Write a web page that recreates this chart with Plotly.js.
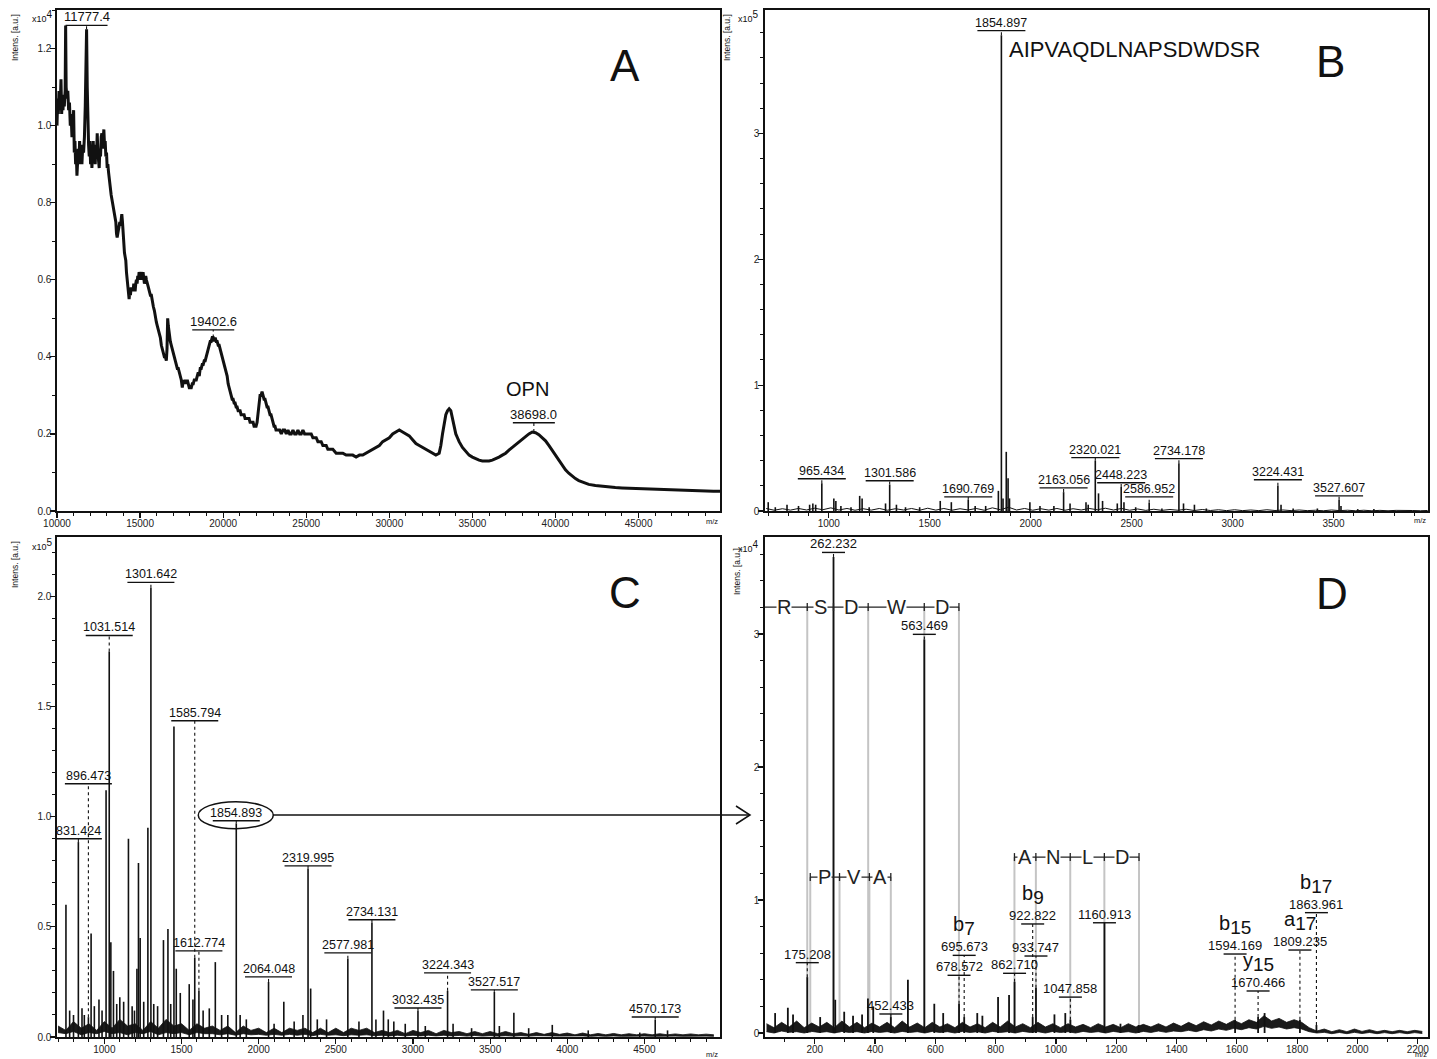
<!DOCTYPE html>
<html><head><meta charset="utf-8">
<script src="https://cdn.plot.ly/plotly-3.0.1.min.js"></script>
<style>html,body{margin:0;padding:0;background:#fff}#chart{width:1437px;height:1059px}</style>
</head><body><div id="chart"></div>
<script>
// ===================== DATA =====================
// Panel A: linear-mode profile spectrum (m/z, intensity x10^4)
const specA_mz = [
10000,10040,10080,10120,10160,10200,10240,10280,10320,10360,
10400,10440,10490,10520,10550,10600,10650,10700,10750,10800,
10850,10900,10950,11000,11040,11080,11120,11160,11200,11240,
11280,11320,11360,11400,11450,11500,11550,11600,11650,11700,
11740,11780,11820,11860,11900,11940,11980,12020,12060,12100,
12140,12180,12220,12260,12300,12340,12380,12420,12460,12500,
12540,12580,12620,12660,12700,12740,12780,12820,12860,12900,
12940,12980,13020,13060,13100,13140,13180,13220,13260,13300,
13340,13380,13420,13460,13500,13540,13580,13620,13660,13700,
13740,13780,13820,13860,13900,13940,13980,14020,14060,14100,
14140,14180,14220,14260,14300,14340,14380,14420,14460,14500,
14540,14580,14620,14660,14700,14740,14780,14820,14860,14900,
14940,14980,15020,15060,15100,15140,15180,15220,15260,15300,
15340,15380,15420,15460,15500,15560,15620,15680,15740,15800,
15860,15920,15980,16040,16100,16160,16220,16280,16340,16400,
16460,16520,16580,16620,16660,16700,16740,16780,16820,16880,
16940,17000,17060,17120,17180,17240,17300,17360,17420,17480,
17540,17600,17660,17720,17780,17840,17900,17960,18020,18080,
18140,18200,18260,18320,18380,18440,18500,18560,18620,18680,
18740,18800,18860,18920,18980,19040,19100,19160,19220,19280,
19340,19400,19460,19520,19580,19640,19700,19760,19820,19880,
19940,20000,20060,20120,20180,20240,20300,20360,20420,20480,
20540,20600,20660,20720,20780,20840,20900,20960,21020,21080,
21140,21200,21260,21320,21380,21440,21500,21560,21620,21680,
21740,21800,21860,21920,21980,22040,22100,22160,22220,22280,
22340,22400,22460,22520,22580,22640,22700,22760,22820,22880,
22940,23000,23060,23120,23180,23240,23300,23400,23500,23600,
23700,23800,23900,24000,24100,24200,24300,24400,24500,24600,
24700,24800,24900,25000,25100,25200,25300,25400,25500,25600,
25700,25800,25900,26000,26100,26200,26300,26400,26500,26600,
26700,26800,26900,27000,27200,27400,27600,27800,28000,28200,
28400,28600,28800,29000,29200,29400,29600,29800,30000,30200,
30400,30600,30800,31000,31200,31400,31600,31800,32000,32200,
32400,32600,32800,33000,33100,33200,33300,33400,33500,33600,
33700,33800,33900,34000,34100,34200,34400,34600,34800,35000,
35200,35400,35600,35800,36000,36200,36400,36600,36800,37000,
37200,37400,37600,37800,38000,38200,38400,38600,38800,39000,
39200,39400,39600,39800,40000,40200,40400,40600,40800,41000,
41200,41400,41600,41800,42000,42400,42800,43200,43600,44000,
44500,45000,45500,46000,46500,47000,47500,48000,48500,49000,
49500,49900];
const specA_int = [
1.00,1.07,1.03,1.09,1.04,1.06,1.12,1.03,1.07,1.04,
1.08,1.05,1.09,1.26,1.10,1.07,1.09,1.04,1.06,1.00,
1.03,0.97,1.00,1.04,0.93,0.96,0.90,0.93,0.87,0.91,
0.94,0.90,0.96,0.91,0.94,0.90,0.95,0.93,0.97,1.05,
1.24,1.25,1.10,0.98,0.95,0.92,0.96,0.90,0.94,0.89,
0.95,0.96,0.91,0.94,0.90,0.95,0.92,0.98,0.93,0.91,
0.89,0.94,0.92,0.97,0.98,0.94,0.97,0.99,0.95,0.96,
0.92,0.93,0.89,0.90,0.88,0.86,0.85,0.84,0.82,0.81,
0.80,0.79,0.79,0.78,0.77,0.75,0.72,0.71,0.72,0.73,
0.74,0.75,0.74,0.76,0.77,0.75,0.71,0.68,0.67,0.66,
0.65,0.62,0.60,0.58,0.57,0.55,0.57,0.56,0.58,0.57,
0.58,0.57,0.59,0.58,0.57,0.59,0.60,0.59,0.61,0.60,
0.62,0.61,0.60,0.62,0.61,0.60,0.62,0.61,0.59,0.60,
0.61,0.60,0.59,0.59,0.58,0.57,0.56,0.56,0.54,0.53,
0.52,0.50,0.49,0.48,0.47,0.46,0.45,0.43,0.42,0.41,
0.40,0.40,0.39,0.42,0.50,0.48,0.46,0.45,0.44,0.43,
0.42,0.41,0.40,0.39,0.38,0.37,0.37,0.36,0.35,0.34,
0.32,0.34,0.33,0.34,0.33,0.34,0.33,0.32,0.32,0.32,
0.33,0.33,0.34,0.34,0.34,0.35,0.36,0.35,0.37,0.37,
0.38,0.38,0.39,0.39,0.40,0.41,0.42,0.43,0.44,0.44,
0.45,0.45,0.44,0.45,0.44,0.44,0.43,0.43,0.42,0.41,
0.40,0.39,0.38,0.37,0.36,0.35,0.33,0.32,0.31,0.30,
0.29,0.29,0.28,0.28,0.27,0.27,0.26,0.26,0.26,0.25,
0.25,0.25,0.25,0.24,0.24,0.24,0.24,0.24,0.23,0.23,
0.23,0.23,0.22,0.22,0.22,0.23,0.26,0.29,0.30,0.30,
0.31,0.30,0.29,0.29,0.28,0.27,0.27,0.26,0.25,0.25,
0.24,0.23,0.22,0.22,0.21,0.21,0.21,0.21,0.20,0.21,
0.21,0.20,0.21,0.20,0.20,0.21,0.20,0.20,0.21,0.20,
0.20,0.21,0.20,0.20,0.20,0.20,0.20,0.19,0.19,0.19,
0.18,0.18,0.18,0.17,0.17,0.17,0.16,0.16,0.16,0.16,
0.155,0.15,0.15,0.15,0.15,0.145,0.145,0.145,0.14,0.145,
0.145,0.15,0.155,0.16,0.165,0.17,0.18,0.185,0.19,0.20,
0.205,0.21,0.205,0.20,0.195,0.185,0.175,0.17,0.165,0.16,
0.155,0.15,0.145,0.15,0.17,0.20,0.23,0.25,0.26,0.265,
0.26,0.24,0.22,0.20,0.19,0.18,0.165,0.155,0.145,0.14,
0.135,0.132,0.13,0.13,0.13,0.132,0.135,0.14,0.145,0.15,
0.158,0.165,0.173,0.18,0.188,0.195,0.20,0.205,0.203,0.198,
0.19,0.182,0.17,0.157,0.143,0.13,0.118,0.107,0.098,0.09,
0.084,0.079,0.075,0.072,0.069,0.066,0.064,0.062,0.061,0.06,
0.059,0.058,0.057,0.056,0.055,0.054,0.054,0.053,0.052,0.052,
0.051,0.051];
const labelsA_mz = [11777.4, 19402.6, 38698.0];
const labelsA_peak = [1.25, 0.45, 0.205];

// Panel B: tryptic peptide mass fingerprint (m/z, intensity x10^5)
const peaksB_mz = [700,735,793,850,905,921,935,965.434,1025,1035,1060,1110,1153,1165,1200,1281,1301.586,1335,1380,1450,1552,1607,1690.769,1725,1777,1840,1854.897,1863,1879,1888,1895,1996,2046,2115,2163.056,2195,2274,2285,2320.021,2336,2356,2429,2448.223,2462,2520,2586.952,2650,2734.178,2757,2811,2870,3224.431,3240,3300,3420,3527.607,3537,3620,3700];
const peaksB_int = [0.07,0.03,0.05,0.04,0.05,0.06,0.05,0.22,0.10,0.08,0.04,0.03,0.12,0.10,0.03,0.06,0.21,0.05,0.03,0.03,0.08,0.07,0.09,0.04,0.04,0.16,3.78,0.10,0.47,0.26,0.10,0.07,0.04,0.04,0.15,0.06,0.07,0.05,0.40,0.14,0.08,0.06,0.19,0.07,0.03,0.065,0.02,0.38,0.06,0.05,0.02,0.20,0.05,0.02,0.02,0.09,0.04,0.015,0.015];
const noiseB_mz = [690,730,770,810,850,890,930,970,1010,1050,1090,1130,1170,1210,1250,1290,1330,1370,1410,1450,1490,1530,1570,1610,1650,1690,1730,1770,1810,1850,1890,1930,1970,2010,2050,2090,2130,2170,2210,2250,2290,2330,2370,2410,2450,2490,2530,2570,2610,2650,2690,2730,2770,2810,2850,2890,2930,2970,3010,3050,3090,3130,3170,3210,3250,3290,3330,3370,3410,3450,3490,3530,3570,3610,3650,3690,3730,3770,3810,3850,3890,3930,3966];
const noiseB_int = [0.02,0.006,0.018,0.007,0.02,0.008,0.022,0.01,0.025,0.008,0.02,0.006,0.018,0.007,0.02,0.006,0.018,0.008,0.02,0.006,0.022,0.007,0.02,0.006,0.018,0.008,0.02,0.006,0.025,0.01,0.03,0.008,0.02,0.006,0.018,0.007,0.02,0.006,0.018,0.008,0.02,0.01,0.022,0.008,0.02,0.006,0.016,0.005,0.014,0.005,0.012,0.006,0.014,0.004,0.012,0.004,0.01,0.003,0.01,0.003,0.008,0.003,0.01,0.004,0.008,0.003,0.008,0.003,0.006,0.002,0.008,0.003,0.006,0.002,0.006,0.002,0.005,0.002,0.005,0.002,0.004,0.002,0.004];
const labelsB_mz = [965.434,1301.586,1690.769,1854.897,2163.056,2320.021,2448.223,2586.952,2734.178,3224.431,3527.607];
const peptideB = 'AIPVAQDLNAPSDWDSR';

// Panel C: peptide mass fingerprint (m/z, intensity x10^5)
const peaksC_mz = [751,775,800,831.424,855,870,896.473,914,935,965,985,1011,1031.514,1042,1059,1080,1100,1125,1156,1180,1195,1211,1221,1232,1255,1282,1301.642,1320,1345,1383,1412,1430,1451,1466,1492,1550,1574,1585.794,1612.774,1640,1680,1719,1760,1800,1854.893,1880,1920,2064.048,2100,2163,2230,2287,2319.995,2337,2380,2440,2577.981,2650,2734.131,2760,2809,2840,2876,2950,3032.435,3080,3224.343,3260,3380,3527.517,3560,3654,3750,3903,4136,4470,4570.173,4650];
const peaksC_int = [0.60,0.12,0.10,0.885,0.13,0.10,0.09,0.47,0.14,0.17,0.12,1.12,1.75,0.43,0.30,0.15,0.18,0.16,0.90,0.14,0.12,0.31,0.79,0.45,0.16,0.95,2.04,0.15,0.14,0.44,0.49,0.15,1.41,0.31,0.20,0.24,0.17,0.36,0.21,0.12,0.13,0.34,0.10,0.10,0.97,0.10,0.08,0.25,0.06,0.16,0.07,0.10,0.765,0.22,0.08,0.08,0.355,0.07,0.52,0.08,0.12,0.08,0.07,0.06,0.12,0.05,0.21,0.06,0.04,0.205,0.05,0.11,0.04,0.055,0.03,0.02,0.078,0.03];
const noiseC_mz = [700,750,800,850,900,950,1000,1050,1100,1150,1200,1250,1300,1350,1400,1450,1500,1550,1600,1650,1700,1750,1800,1850,1900,1950,2000,2050,2100,2150,2200,2250,2300,2350,2400,2450,2500,2550,2600,2650,2700,2750,2800,2850,2900,2950,3000,3050,3100,3150,3200,3250,3300,3350,3400,3450,3500,3550,3600,3650,3700,3750,3800,3850,3900,3950,4000,4050,4100,4150,4200,4250,4300,4350,4400,4450,4500,4550,4600,4650,4700,4750,4800,4850,4900,4950];
const noiseC_hi = [0.05,0.03,0.07,0.04,0.06,0.03,0.07,0.04,0.08,0.05,0.06,0.03,0.07,0.04,0.08,0.05,0.06,0.03,0.06,0.04,0.05,0.03,0.05,0.02,0.05,0.03,0.04,0.02,0.04,0.02,0.04,0.03,0.04,0.02,0.04,0.02,0.04,0.02,0.04,0.03,0.04,0.02,0.03,0.02,0.03,0.015,0.03,0.02,0.03,0.015,0.03,0.02,0.025,0.015,0.025,0.015,0.025,0.015,0.025,0.015,0.02,0.012,0.02,0.012,0.02,0.012,0.018,0.01,0.018,0.01,0.016,0.01,0.016,0.01,0.015,0.01,0.015,0.01,0.015,0.01,0.014,0.01,0.014,0.01,0.013,0.01];
const noiseC_lo = [0.02,0.015,0.025,0.01,0.02,0.015,0.025,0.015,0.02,0.01,0.02,0.015,0.025,0.01,0.02,0.015,0.02,0.01,0.02,0.015,0.015,0.01,0.015,0.008,0.015,0.01,0.012,0.008,0.012,0.008,0.012,0.008,0.012,0.006,0.012,0.008,0.01,0.006,0.01,0.008,0.01,0.006,0.008,0.005,0.008,0.005,0.008,0.005,0.008,0.005,0.008,0.005,0.007,0.004,0.007,0.004,0.006,0.004,0.006,0.004,0.006,0.004,0.006,0.004,0.005,0.004,0.005,0.003,0.005,0.003,0.005,0.003,0.005,0.003,0.004,0.003,0.004,0.003,0.004,0.003,0.004,0.003,0.004,0.003,0.004,0.003];
const labelsC_mz = [831.424,896.473,1031.514,1301.642,1585.794,1612.774,1854.893,2064.048,2319.995,2577.981,2734.131,3032.435,3224.343,3527.517,4570.173];

// Panel D: MS/MS fragment spectrum of m/z 1854.9 (m/z, intensity x10^4)
const peaksD_mz = [68.6,110.8,128,175.208,218,262.232,268,297.7,327,357,376.4,394,452.433,509,563.469,596.5,626,678.572,695.673,739,756,808,844.5,862.710,922.822,933.747,995,1031,1047.858,1160.913,1214,1274,1594.169,1670.466,1692,1809.235,1863.961];
const peaksD_int = [0.15,0.19,0.14,0.42,0.12,3.58,0.25,0.16,0.13,0.14,0.26,0.20,0.12,0.40,2.96,0.22,0.15,0.22,0.12,0.15,0.13,0.27,0.285,0.385,0.12,0.34,0.14,0.15,0.10,0.83,0.07,0.06,0.10,0.12,0.15,0.10,0.06];
const noiseD_mz = [40,65,90,115,140,165,190,215,240,265,290,315,340,365,390,415,440,465,490,515,540,565,590,615,640,665,690,715,740,765,790,815,840,865,890,915,940,965,990,1015,1040,1065,1090,1115,1140,1165,1190,1215,1240,1265,1290,1315,1340,1365,1390,1415,1440,1465,1490,1515,1540,1565,1590,1615,1640,1665,1690,1715,1740,1765,1790,1815,1840,1865,1890,1915,1940,1965,1990,2015,2040,2065,2090,2115,2140,2165,2190,2215];
const noiseD_hi = [0.07,0.04,0.08,0.045,0.09,0.04,0.075,0.045,0.08,0.04,0.09,0.045,0.08,0.04,0.075,0.045,0.08,0.04,0.09,0.045,0.075,0.04,0.08,0.045,0.07,0.04,0.08,0.045,0.07,0.04,0.08,0.045,0.09,0.045,0.07,0.04,0.08,0.045,0.07,0.04,0.07,0.045,0.065,0.04,0.07,0.045,0.065,0.04,0.07,0.045,0.065,0.045,0.07,0.045,0.075,0.05,0.08,0.055,0.085,0.06,0.09,0.065,0.095,0.07,0.10,0.08,0.13,0.09,0.11,0.08,0.10,0.08,0.04,0.015,0.03,0.01,0.025,0.01,0.03,0.012,0.025,0.01,0.02,0.01,0.02,0.01,0.02,0.012];
const noiseD_lo = [0.01,0.0,0.015,0.005,0.01,0.0,0.012,0.004,0.01,0.0,0.012,0.004,0.01,0.0,0.012,0.004,0.01,0.0,0.012,0.004,0.01,0.0,0.012,0.004,0.01,0.0,0.012,0.004,0.01,0.0,0.012,0.004,0.01,0.0,0.012,0.004,0.01,0.0,0.012,0.004,0.01,0.0,0.012,0.004,0.01,0.0,0.012,0.004,0.01,0.0,0.012,0.004,0.015,0.005,0.015,0.01,0.02,0.01,0.025,0.015,0.03,0.02,0.035,0.025,0.04,0.03,0.05,0.035,0.045,0.03,0.04,0.03,0.01,0.0,0.005,-0.005,0.004,-0.005,0.005,-0.004,0.004,-0.005,0.003,-0.005,0.003,-0.005,0.003,-0.004];
const labelsD_mz = [175.208,262.232,452.433,563.469,678.572,695.673,862.710,922.822,933.747,1047.858,1160.913,1594.169,1670.466,1809.235,1863.961];
const ionsD_type = ['b','b','b','y','a','b'];
const ionsD_num = ['7','9','15','15','17','17'];
const ionsD_mz = [695.673,922.822,1594.169,1670.466,1809.235,1863.961];
// sequence ladders (fragment m/z nodes and residues)
const ladderY_nodes = [19.02,175.12,262.15,377.18,563.26,678.29];
const ladderY_res = ['R','S','D','W','D'];
const ladderB1_nodes = [185.13,282.18,381.25,452.29];
const ladderB1_res = ['P','V','A'];
const ladderY2_nodes = [862.37,933.41,1047.45,1160.54,1275.56];
const ladderY2_res = ['A','N','L','D'];

// ===================== PLACEMENT (label heights, not data) =====================
const posA_y = [1.26, 0.47, 0.229];
const posB_y = [0.256,0.24,0.112,3.816,0.184,0.424,0.224,0.112,0.416,0.248,0.12];
const posC_y = [0.90,1.15,1.823,2.064,1.436,0.391,0.982,0.273,0.777,0.382,0.532,0.132,0.291,0.214,0.091];
const posD_y = [0.529,3.614,0.143,2.998,0.434,0.584,0.449,0.82,0.579,0.27,0.829,0.594,0.316,0.624,0.905];
const ladderY_y = 3.203, ladderB1_y = 1.173, ladderY2_y = 1.323;

// ===================== BUILD =====================
const W = 1437, H = 1059;
const FONT = '"Liberation Sans", Arial, Helvetica, sans-serif';
const PX = v => v / W, PY = v => 1 - v / H;
const annotations = [], shapes = [];

function sticks(mz, it) {
  const x = [], y = [];
  mz.forEach((m, i) => { x.push(m, m, null); y.push(0, it[i], null); });
  return {x, y};
}
function lookup(mzArr, intArr, m) { return intArr[mzArr.indexOf(m)]; }

function peakLabels(n, mzs, ys, peaks, digits, uw, fsize) {
  const xr = 'x' + (n === 1 ? '' : n), yr = 'y' + (n === 1 ? '' : n);
  mzs.forEach((m, i) => {
    annotations.push({xref: xr, yref: yr, x: m, y: ys[i], text: m.toFixed(digits), showarrow: false,
      xanchor: 'center', yanchor: 'bottom', borderpad: 0, font: {family: FONT, size: fsize, color: '#111'}});
    shapes.push({type: 'line', xref: xr, yref: yr, xsizemode: 'pixel', xanchor: m, x0: -uw / 2, x1: uw / 2,
      y0: ys[i], y1: ys[i], line: {color: '#111', width: 1.4}});
    if (ys[i] > peaks[i]) shapes.push({type: 'line', xref: xr, yref: yr, x0: m, x1: m, y0: peaks[i], y1: ys[i],
      line: {color: '#111', width: 1.1, dash: 'dot'}});
  });
}

function paperText(text, x, y, size, opts) {
  annotations.push(Object.assign({xref: 'paper', yref: 'paper', x: PX(x), y: PY(y), text, showarrow: false,
    xanchor: 'center', yanchor: 'middle', font: {family: FONT, size, color: '#111'}}, opts || {}));
}

function ladder(nodes, res, ly) {
  shapes.push({type: 'line', xref: 'x4', yref: 'y4', x0: nodes[0], x1: nodes[nodes.length - 1], y0: ly, y1: ly,
    line: {color: '#222', width: 1.3}});
  nodes.forEach(m => {
    shapes.push({type: 'line', xref: 'x4', yref: 'y4', x0: m, x1: m, y0: 0, y1: ly, layer: 'below',
      line: {color: '#c4c4c4', width: 2}});
    shapes.push({type: 'line', xref: 'x4', yref: 'y4', x0: m, x1: m, ysizemode: 'pixel', yanchor: ly, y0: -4, y1: 4,
      line: {color: '#222', width: 1.3}});
  });
  res.forEach((r, i) => {
    annotations.push({xref: 'x4', yref: 'y4', x: (nodes[i] + nodes[i + 1]) / 2, y: ly, text: r, showarrow: false,
      xanchor: 'center', yanchor: 'middle', bgcolor: '#fff', borderpad: 0,
      font: {family: FONT, size: 20, color: '#222'}});
  });
}

// traces
const lineBlack = (w) => ({color: '#111', width: w});
const sB = sticks(peaksB_mz, peaksB_int), sC = sticks(peaksC_mz, peaksC_int), sD = sticks(peaksD_mz, peaksD_int);
const data = [
  {type: 'scatter', mode: 'lines', x: specA_mz, y: specA_int, xaxis: 'x', yaxis: 'y', line: lineBlack(3)},
  {type: 'scatter', mode: 'lines', x: noiseB_mz, y: noiseB_int, xaxis: 'x2', yaxis: 'y2', line: lineBlack(1)},
  {type: 'scatter', mode: 'lines', x: sB.x, y: sB.y, xaxis: 'x2', yaxis: 'y2', line: lineBlack(1.6), connectgaps: false},
  {type: 'scatter', mode: 'lines', x: noiseC_mz, y: noiseC_lo, xaxis: 'x3', yaxis: 'y3', line: lineBlack(0.8)},
  {type: 'scatter', mode: 'lines', x: noiseC_mz, y: noiseC_hi, xaxis: 'x3', yaxis: 'y3', line: lineBlack(0.8), fill: 'tonexty', fillcolor: '#1a1a1a'},
  {type: 'scatter', mode: 'lines', x: sC.x, y: sC.y, xaxis: 'x3', yaxis: 'y3', line: lineBlack(1.6), connectgaps: false},
  {type: 'scatter', mode: 'lines', x: noiseD_mz, y: noiseD_lo, xaxis: 'x4', yaxis: 'y4', line: lineBlack(0.8)},
  {type: 'scatter', mode: 'lines', x: noiseD_mz, y: noiseD_hi, xaxis: 'x4', yaxis: 'y4', line: lineBlack(0.8), fill: 'tonexty', fillcolor: '#1a1a1a'},
  {type: 'scatter', mode: 'lines', x: sD.x, y: sD.y, xaxis: 'x4', yaxis: 'y4', line: lineBlack(1.8), connectgaps: false}
];

// labels
peakLabels(1, labelsA_mz, posA_y, labelsA_peak, 1, 42, 13);
peakLabels(2, labelsB_mz, posB_y, labelsB_mz.map(m => lookup(peaksB_mz, peaksB_int, m)), 3, 48, 12.5);
peakLabels(3, labelsC_mz, posC_y, labelsC_mz.map(m => lookup(peaksC_mz, peaksC_int, m)), 3, 47, 12.5);
peakLabels(4, labelsD_mz, posD_y, labelsD_mz.map(m => lookup(peaksD_mz, peaksD_int, m)), 3, 23, 13);

// ion-type labels in D
ionsD_mz.forEach((m, i) => {
  const ly = posD_y[labelsD_mz.indexOf(m)];
  annotations.push({xref: 'x4', yref: 'y4', x: m, y: ly, yshift: 14, showarrow: false, xanchor: 'center', yanchor: 'bottom',
    text: ionsD_type[i] + '<sub><span style="font-size:19px">' + ionsD_num[i] + '</span></sub>',
    font: {family: FONT, size: 20, color: '#111'}});
});

// ladders
ladder(ladderY_nodes, ladderY_res, ladderY_y);
ladder(ladderB1_nodes, ladderB1_res, ladderB1_y);
ladder(ladderY2_nodes, ladderY2_res, ladderY2_y);

// OPN tag in A
annotations.push({xref: 'x', yref: 'y', x: 38300, y: 0.317, text: 'OPN', showarrow: false, font: {family: FONT, size: 20, color: '#111'}});

// ellipse around 1854.893 in C and arrow to D
shapes.push({type: 'circle', xref: 'x3', yref: 'y3', xsizemode: 'pixel', xanchor: 1854.893, x0: -38, x1: 37,
  ysizemode: 'pixel', yanchor: 0.982, y0: -8, y1: 19, line: {color: '#111', width: 1.5}});
shapes.push({type: 'line', xref: 'paper', yref: 'paper', x0: PX(273), x1: PX(750), y0: PY(815), y1: PY(815), line: {color: '#111', width: 1.5}});
shapes.push({type: 'path', xref: 'paper', yref: 'paper',
  path: `M ${PX(736)} ${PY(806)} L ${PX(750)} ${PY(815)} L ${PX(736)} ${PY(824)}`, line: {color: '#111', width: 1.5}});

// panel letters, peptide, axis captions
paperText('A', 625, 65, 44); paperText('B', 1330, 62, 44); paperText('C', 625, 592, 44); paperText('D', 1332, 593, 44);
paperText(peptideB, 1007, 50, 22, {xanchor: 'left'});
[[15, 38], [727, 38], [15, 565], [737, 572]].forEach(p => paperText('Intens. [a.u.]', p[0], p[1], 8.5, {textangle: -90}));
const sup = d => 'x10<sup><span style="font-size:10px">' + d + '</span></sup>';
[[sup(4), 42, 16], [sup(5), 748, 16], [sup(5), 42, 544], [sup(4), 748, 546]]
  .forEach(p => paperText(p[0], p[1], p[2], 9));
[[712, 521], [1420, 520], [712, 1054], [1421, 1054]].forEach(p => paperText('m/z', p[0], p[1], 7.5));

// axes
function axis(dom, range, dtick, minor, fmt, anchor, tick0) {
  return {domain: dom, range, dtick, tick0: tick0 || 0, tickformat: fmt, anchor,
    ticks: 'outside', ticklen: 5, tickwidth: 1.2, tickcolor: '#111', ticklabelstandoff: -3,
    minor: {dtick: minor, ticks: 'outside', ticklen: 3, tickwidth: 1, tickcolor: '#111', showgrid: false},
    showline: true, linecolor: '#111', linewidth: 1.6, mirror: true, showgrid: false, zeroline: false,
    tickfont: {family: FONT, size: 10, color: '#222'}, automargin: false, fixedrange: true};
}
const dxL = [PX(57), PX(720)], dxR = [PX(765), PX(1428)];
const dyT = [PY(511), PY(10)], dyB = [PY(1037), PY(537)];
const layout = {
  width: W, height: H, margin: {l: 0, r: 0, t: 0, b: 0}, paper_bgcolor: '#fff', plot_bgcolor: '#fff',
  showlegend: false, hovermode: false,
  xaxis: axis(dxL, [10000, 49900], 5000, 1000, 'd', 'y', 10000),
  yaxis: axis(dyT, [0, 1.30], 0.2, 0.1, '.1f', 'x'),
  xaxis2: axis(dxR, [684, 3968], 500, 100, 'd', 'y2'),
  yaxis2: axis(dyT, [0, 3.98], 1, 0.2, 'd', 'x2'),
  xaxis3: axis(dxL, [693, 4990], 500, 100, 'd', 'y3'),
  yaxis3: axis(dyB, [0, 2.27], 0.5, 0.1, '.1f', 'x3'),
  xaxis4: axis(dxR, [35, 2234], 200, 100, 'd', 'y4'),
  yaxis4: axis(dyB, [-0.03, 3.73], 1, 0.2, 'd', 'x4'),
  annotations, shapes
};
Plotly.newPlot('chart', data, layout, {staticPlot: true, displayModeBar: false});
</script>
</body></html>
